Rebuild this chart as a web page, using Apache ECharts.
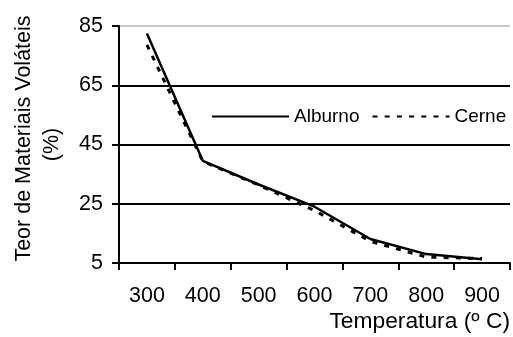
<!DOCTYPE html>
<html>
<head>
<meta charset="utf-8">
<script src="https://cdn.jsdelivr.net/npm/echarts@6/dist/echarts.min.js"></script>
<style>
    html, body {margin: 0; padding: 0; background: #fff;}
    #chart {width: 513px; height: 337px;}
</style>
</head>
<body>
<div id="chart"></div>
<script>
    const temperaturas = ['300', '400', '500', '600', '700', '800', '900'];
    const alburno = [82.5, 39.5, 31.5, 24, 13.1, 8, 6.3];
    const cerne = [78.6, 39.3, 31.3, 22.7, 12.3, 7, 6.5];
    const yTicks = {min: 5, max: 85, interval: 20};

    const font = "'Liberation Sans', Arial, sans-serif";
    const myChart = echarts.init(document.getElementById('chart'), null, {renderer: 'canvas'});

    myChart.setOption({
        animation: false,
        backgroundColor: '#fff',
        textStyle: {fontFamily: font, color: '#000'},
        grid: {left: 119, top: 26, width: 397, height: 237, containLabel: false},
        legend: {
            left: 211,
            top: 107,
            padding: 0,
            itemWidth: 77,
            itemHeight: 14,
            itemGap: 12,
            // only the line in the legend icon, no marker
            itemStyle: {color: 'rgba(0,0,0,0)', borderWidth: 0, opacity: 0},
            textStyle: {fontFamily: font, fontSize: 19, color: '#000'},
            data: ['Alburno', 'Cerne']
        },
        xAxis: {
            type: 'category',
            data: temperaturas,
            boundaryGap: true,
            name: 'Temperatura (º C)',
            nameLocation: 'end',
            nameGap: 0,
            nameTextStyle: {
                fontFamily: font, fontSize: 22.8, color: '#000',
                align: 'right', verticalAlign: 'top', padding: [47, 0, 0, 0]
            },
            axisLine: {lineStyle: {color: '#000', width: 2}},
            axisTick: {show: true, length: 7, lineStyle: {color: '#000', width: 2}},
            axisLabel: {fontFamily: font, fontSize: 21.5, color: '#000', margin: 22},
            splitLine: {show: false}
        },
        yAxis: {
            type: 'value',
            min: yTicks.min,
            max: yTicks.max,
            interval: yTicks.interval,
            name: '  Teor de Materiais Voláteis\n(%)',
            nameLocation: 'middle',
            nameGap: 53,
            nameTextStyle: {fontFamily: font, fontSize: 21.5, color: '#000', lineHeight: 28},
            axisLine: {show: true, lineStyle: {color: '#000', width: 2}},
            axisTick: {show: true, length: 7, lineStyle: {color: '#000', width: 2}},
            axisLabel: {fontFamily: font, fontSize: 21.5, color: '#000', margin: 16},
            splitLine: {
                show: true,
                lineStyle: {color: ['#000', '#000', '#000', '#000', '#c8c8c8'], width: 2}
            }
        },
        series: [
            {
                name: 'Alburno',
                type: 'line',
                data: alburno,
                symbol: 'none',
                lineStyle: {color: '#000', width: 2.5, type: 'solid'},
                itemStyle: {color: '#000'}
            },
            {
                name: 'Cerne',
                type: 'line',
                data: cerne,
                symbol: 'none',
                lineStyle: {color: '#000', width: 3, type: [5, 7.2]},
                itemStyle: {color: '#000'}
            }
        ]
    });
</script>
</body>
</html>
